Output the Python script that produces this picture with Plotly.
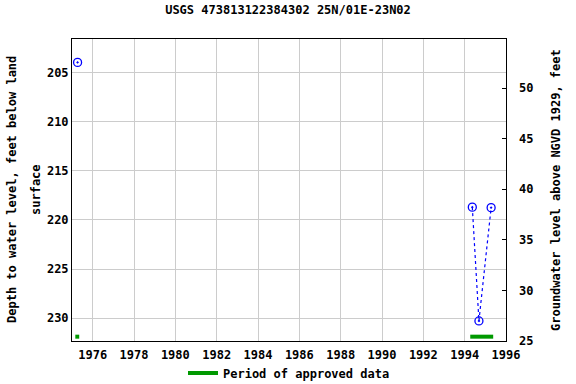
import plotly.graph_objects as go

# Data
years = [1975.27, None, 1994.37, 1994.69, 1995.28]
depth = [203.98, None, 218.7, 230.27, 218.75]
approved_periods = [(1975.16, 1975.35), (1994.27, 1995.38)]
approved_level = 231.87

left_range = [232.31, 201.6]
right_range = [25, 54.85]
x_range = [1975.0, 1996.0]

FONT = "DejaVu Sans Mono"

fig = go.Figure()

# approved data bars
first = True
for (a, b) in approved_periods:
    fig.add_trace(go.Scatter(
        x=[a, b], y=[approved_level, approved_level], mode="lines",
        line=dict(color="#009900", width=4),
        name="<b>Period of approved data</b>", showlegend=first, hoverinfo="skip"))
    first = False

# water level observations (dotted connections)
fig.add_trace(go.Scatter(
    x=years, y=depth, mode="lines+markers",
    line=dict(color="#0000ff", width=1.2, dash="dot"),
    marker=dict(symbol="circle-open-dot", size=8, color="#0000ff",
                line=dict(width=1.3, color="#0000ff")),
    showlegend=False, connectgaps=False))

# invisible trace for right axis
fig.add_trace(go.Scatter(x=[x_range[0]], y=[right_range[0]], yaxis="y2",
                         mode="markers", marker=dict(opacity=0),
                         showlegend=False, hoverinfo="skip"))

fig.update_layout(
    width=576, height=384,
    margin=dict(l=72, r=70, t=39, b=43, autoexpand=False),
    paper_bgcolor="white", plot_bgcolor="white",
    font=dict(family=FONT, size=12, color="black"),
    title=dict(text="<b>USGS 473813122384302 25N/01E-23N02</b>",
               x=0.5, xanchor="center", y=0.985, yanchor="top",
               font=dict(family=FONT, size=12)),
    xaxis=dict(range=x_range, dtick=2, tick0=1976, showgrid=True,
               gridcolor="#cccccc", gridwidth=1,
               showline=True, linecolor="black", linewidth=1, mirror=True,
               ticks="", ticklabelstandoff=3, tickfont=dict(family=FONT, size=12),
               tickprefix="<b>", ticksuffix="</b>", zeroline=False),
    yaxis=dict(range=left_range, dtick=5, tick0=205, showgrid=True,
               gridcolor="#cccccc", gridwidth=1,
               showline=True, linecolor="black", linewidth=1, mirror=True,
               ticks="", tickfont=dict(family=FONT, size=12),
               tickprefix="<b>", ticksuffix="</b>", zeroline=False),
    yaxis2=dict(range=right_range, dtick=5, tick0=25, overlaying="y",
                side="right", showgrid=False, zeroline=False,
                ticks="inside", ticklen=4, tickcolor="black",
                ticklabelstandoff=12,
                tickfont=dict(family=FONT, size=12),
                tickprefix="<b>", ticksuffix="</b>"),
    legend=dict(orientation="h", x=0.5, xanchor="center", y=-0.106,
                yanchor="middle", font=dict(family=FONT, size=12),
                bgcolor="rgba(0,0,0,0)"),
    annotations=[
        dict(text="<b>Depth to water level, feet below land</b>",
             xref="paper", yref="paper", x=-72/434 + 12/434, y=0.5,
             xanchor="center", yanchor="middle", textangle=-90,
             showarrow=False, font=dict(family=FONT, size=12)),
        dict(text="<b>surface</b>",
             xref="paper", yref="paper", x=-72/434 + 36/434, y=0.5,
             xanchor="center", yanchor="middle", textangle=-90,
             showarrow=False, font=dict(family=FONT, size=12)),
        dict(text="<b>Groundwater level above NGVD 1929, feet</b>",
             xref="paper", yref="paper", x=1 + (556 - 506) / 434, y=0.5,
             xanchor="center", yanchor="middle", textangle=-90,
             showarrow=False, font=dict(family=FONT, size=12)),
    ],
)

fig.write_html("out.html")
